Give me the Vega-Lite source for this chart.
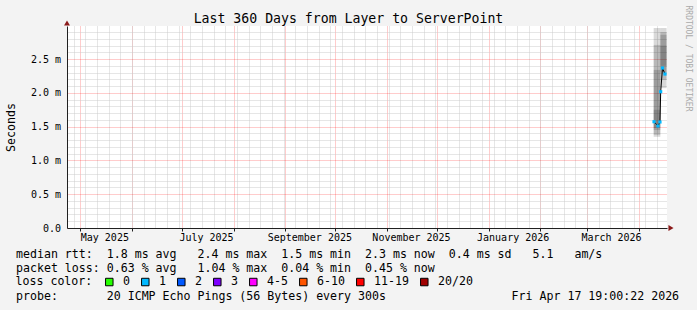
{
  "$schema": "https://vega.github.io/schema/vega-lite/v6.json",
  "width": 600,
  "height": 202,
  "autosize": {"type": "none"},
  "padding": {"left": 67, "top": 26, "right": 30, "bottom": 82},
  "background": "#f3f3f3",
  "title": {
    "text": "Last 360 Days from Layer to ServerPoint",
    "font": "DejaVu Sans Mono",
    "fontSize": 13.2,
    "fontWeight": "normal",
    "color": "#000000",
    "anchor": "middle",
    "frame": "group",
    "dx": -18.5,
    "dy": 34,
    "offset": 3,
    "baseline": "alphabetic"
  },
  "config": {
    "view": {"stroke": null, "fill": "#ffffff"},
    "axis": {"labelFont": "DejaVu Sans Mono", "titleFont": "DejaVu Sans Mono"},
    "legend": {"labelFont": "DejaVu Sans Mono", "titleFont": "DejaVu Sans Mono"}
  },
  "datasets": {
    "smoke": [
      {"start": "2026-04-10T00:00:00", "end": "2026-04-14T00:00:00", "lo": 1.35, "hi": 2.96},
      {"start": "2026-04-10T00:00:00", "end": "2026-04-14T00:00:00", "lo": 1.38, "hi": 2.71},
      {"start": "2026-04-10T00:00:00", "end": "2026-04-14T00:00:00", "lo": 1.45, "hi": 2.34},
      {"start": "2026-04-10T00:00:00", "end": "2026-04-14T00:00:00", "lo": 1.48, "hi": 1.75},
      {"start": "2026-04-14T00:00:00", "end": "2026-04-17T18:00:00", "lo": 2.07, "hi": 2.96},
      {"start": "2026-04-14T00:00:00", "end": "2026-04-17T18:00:00", "lo": 2.19, "hi": 2.9},
      {"start": "2026-04-14T00:00:00", "end": "2026-04-17T18:00:00", "lo": 2.3, "hi": 2.86},
      {"start": "2026-04-14T00:00:00", "end": "2026-04-17T18:00:00", "lo": 2.4, "hi": 2.7}
    ],
    "median": [
      {"t": "2026-04-10T05:00:00", "median": 1.573, "loss": "1"},
      {"t": "2026-04-12T14:00:00", "median": 1.51, "loss": "1"},
      {"t": "2026-04-13T19:00:00", "median": 1.569, "loss": "1"},
      {"t": "2026-04-14T05:00:00", "median": 2.017, "loss": "1"},
      {"t": "2026-04-15T07:00:00", "median": 2.368, "loss": "1"},
      {"t": "2026-04-16T19:00:00", "median": 2.279, "loss": "1"}
    ]
  },
  "layer": [
    {
      "data": {"name": "smoke"},
      "mark": {"type": "rect", "color": "#000000", "opacity": 0.15},
      "encoding": {
        "x": {
          "field": "start", "type": "temporal",
          "scale": {"domain": [{"year": 2025, "month": 4, "date": 23}, {"year": 2026, "month": 4, "date": 18}]},
          "axis": {
            "orient": "bottom", "tickCount": {"interval": "month", "step": 1},
            "labels": false, "grid": true, "gridColor": "#ff0000", "gridOpacity": 0.4, "gridDash": [1, 1],
            "ticks": true, "tickSize": 3, "tickColor": "#202020",
            "domain": true, "domainColor": "#202020", "title": null
          }
        },
        "x2": {"field": "end"},
        "y": {
          "field": "lo", "type": "quantitative",
          "scale": {"domain": [0, 2.99], "nice": false},
          "axis": {
            "orient": "left", "values": [0, 0.5, 1, 1.5, 2, 2.5],
            "labelExpr": "datum.value == 0 ? '0.0' : format(datum.value, '.1f') + ' m'",
            "labelFontSize": 10, "labelColor": "#000000", "labelPadding": 6.5,
            "ticks": false, "grid": true, "gridColor": "#ff0000", "gridOpacity": 0.4, "gridDash": [1, 1],
            "domain": true, "domainColor": "#202020",
            "title": "Seconds", "titleFontSize": 11.6, "titleFontWeight": "normal", "titleColor": "#000000",
            "titleX": -56, "titleY": 101, "titleAlign": "center", "titleBaseline": "middle", "titleAngle": 270
          }
        },
        "y2": {"field": "hi"}
      }
    },
    {
      "data": {"name": "median"},
      "mark": {"type": "line", "color": "#000000", "strokeWidth": 1},
      "encoding": {
        "x": {
          "field": "t", "type": "temporal",
          "scale": {"domain": [{"year": 2025, "month": 4, "date": 23}, {"year": 2026, "month": 4, "date": 18}]},
          "axis": {
            "orient": "bottom", "tickCount": {"interval": "week", "step": 1},
            "labels": false, "ticks": false, "domain": false,
            "grid": true, "gridColor": "#cccccc", "gridDash": [1, 1],
            "title": "probe:\u00a0\u00a0\u00a0\u00a0\u00a0\u00a0\u00a020 ICMP Echo Pings (56 Bytes) every 300s\u00a0\u00a0\u00a0\u00a0\u00a0\u00a0\u00a0\u00a0\u00a0\u00a0\u00a0\u00a0\u00a0\u00a0\u00a0\u00a0\u00a0\u00a0Fri Apr 17 19:00:22 2026",
            "titleX": -51.5, "titleY": 71.5, "titleAlign": "left", "titleBaseline": "alphabetic",
            "titleFontSize": 11.6, "titleFontWeight": "normal", "titleColor": "#000000", "titleAngle": 0
          }
        },
        "y": {
          "field": "median", "type": "quantitative",
          "scale": {"domain": [0, 2.99], "nice": false},
          "axis": {
            "orient": "left",
            "values": [0.1, 0.2, 0.3, 0.4, 0.6, 0.7, 0.8, 0.9, 1.1, 1.2, 1.3, 1.4, 1.6, 1.7, 1.8, 1.9, 2.1, 2.2, 2.3, 2.4, 2.6, 2.7, 2.8, 2.9],
            "labels": false, "ticks": false, "domain": false,
            "grid": true, "gridColor": "#cccccc", "gridDash": [1, 1], "title": null
          }
        }
      }
    },
    {
      "data": {"name": "median"},
      "mark": {"type": "square", "size": 10, "opacity": 1, "filled": true},
      "encoding": {
        "x": {
          "field": "t", "type": "temporal",
          "scale": {"domain": [{"year": 2025, "month": 4, "date": 23}, {"year": 2026, "month": 4, "date": 18}]},
          "axis": {
            "orient": "bottom", "tickCount": {"interval": "month", "step": 2}, "format": "%B %Y",
            "labelFontSize": 10, "labelColor": "#000000", "labelOffset": 24, "labelPadding": 4,
            "labelFlush": false, "labelOverlap": false, "labelBound": false,
            "ticks": false, "domain": false, "grid": false,
            "title": [
              "median rtt:\u00a0\u00a01.8 ms avg\u00a0\u00a0\u00a02.4 ms max\u00a0\u00a01.5 ms min\u00a0\u00a02.3 ms now\u00a0\u00a00.4 ms sd\u00a0\u00a0\u00a05.1\u00a0\u00a0\u00a0am/s",
              "packet loss:\u00a00.63 % avg\u00a0\u00a0\u00a01.04 % max\u00a0\u00a00.04 % min\u00a0\u00a00.45 % now"
            ],
            "titleX": -51.5, "titleY": 29.5, "titleAlign": "left", "titleBaseline": "alphabetic",
            "titleFontSize": 11.6, "titleFontWeight": "normal", "titleColor": "#000000",
            "titleLineHeight": 14, "titleAngle": 0
          }
        },
        "y": {
          "field": "median", "type": "quantitative",
          "scale": {"domain": [0, 2.99], "nice": false},
          "axis": {
            "orient": "right", "labels": false, "ticks": false, "domain": false, "grid": false,
            "title": "RRDTOOL / TOBI OETIKER", "titleAngle": 90, "titleFontSize": 8,
            "titleFontWeight": "normal", "titleColor": "#aaaaaa",
            "titleX": 20, "titleY": 32, "titleAlign": "center", "titleBaseline": "middle"
          }
        },
        "color": {
          "field": "loss", "type": "nominal",
          "scale": {
            "domain": ["0", "1", "2", "3", "4-5", "6-10", "11-19", "20/20"],
            "range": ["#26ff00", "#00b8ff", "#0059ff", "#7e00ff", "#ff00ff", "#ff5500", "#ff0000", "#a00000"]
          },
          "legend": {
            "orient": "none", "legendX": -51.5, "legendY": 250,
            "direction": "horizontal", "columns": 8,
            "title": "loss color:", "titleOrient": "left", "titleFontSize": 11.6, "titleFontWeight": "normal",
            "titleColor": "#000000", "titlePadding": 11, "titleBaseline": "middle",
            "labelFontSize": 11.6, "labelColor": "#000000", "labelOffset": 8,
            "columnPadding": 9, "symbolType": "square", "symbolSize": 56,
            "symbolStrokeColor": "#000000", "symbolStrokeWidth": 1, "symbolOpacity": 1,
            "padding": 0, "offset": 0
          }
        }
      }
    },
    {
      "data": {"values": [{}]},
      "mark": {"type": "point", "shape": "triangle-up", "filled": true, "color": "#8b1a1a", "size": 35, "opacity": 1, "yOffset": -3, "clip": false},
      "encoding": {
        "x": {"datum": {"year": 2025, "month": 4, "date": 23}, "type": "temporal", "axis": null},
        "y": {"datum": 2.99, "type": "quantitative", "axis": null}
      }
    },
    {
      "data": {"values": [{}]},
      "mark": {"type": "point", "shape": "triangle-right", "filled": true, "color": "#8b1a1a", "size": 35, "opacity": 1, "xOffset": 4, "clip": false},
      "encoding": {
        "x": {"datum": {"year": 2026, "month": 4, "date": 18}, "type": "temporal", "axis": null},
        "y": {"datum": 0, "type": "quantitative", "axis": null}
      }
    }
  ],
  "resolve": {"axis": {"x": "independent", "y": "independent"}}
}
